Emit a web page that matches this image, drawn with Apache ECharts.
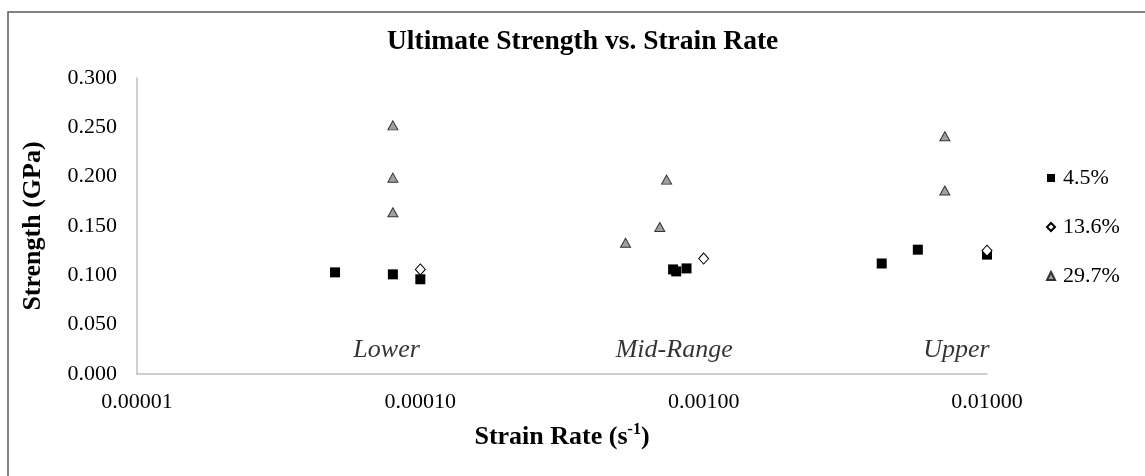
<!DOCTYPE html>
<html>
<head>
<meta charset="utf-8">
<script src="https://cdn.jsdelivr.net/npm/echarts@6/dist/echarts.min.js"></script>
<style>
  html, body { margin: 0; padding: 0; background: #fff; }
  #chart { width: 1145px; height: 476px; }
</style>
</head>
<body>
<div id="chart"></div>
<script>
// Ultimate strength of three fibre contents over a range of strain rates
const seriesNames = ['4.5%', '13.6%', '29.7%'];

const rate4_5 = [5.0e-5, 8.0e-5, 1.0e-4, 7.8e-4, 8.0e-4, 8.7e-4, 4.25e-3, 5.7e-3, 1.0e-2];
const strength4_5 = [0.103, 0.101, 0.096, 0.106, 0.104, 0.107, 0.112, 0.126, 0.121];

const rate13_6 = [1.0e-4, 1.0e-3, 1.0e-2];
const strength13_6 = [0.106, 0.117, 0.125];

const rate29_7 = [8.0e-5, 8.0e-5, 8.0e-5, 5.3e-4, 7.0e-4, 7.4e-4, 7.1e-3, 7.1e-3];
const strength29_7 = [0.252, 0.199, 0.164, 0.133, 0.149, 0.197, 0.241, 0.186];

// strain-rate regime labels and where they sit on the chart
const regimeNames = ['Lower', 'Mid-Range', 'Upper'];
const regimeRates = [7.6e-5, 7.87e-4, 7.8e-3];
const regimeStrength = [0.024, 0.024, 0.024];

const xTicks = [0.00001, 0.0001, 0.001, 0.01];
const yTicks = [0, 0.05, 0.1, 0.15, 0.2, 0.25, 0.3];

const FONT = '"Liberation Serif", "Times New Roman", serif';
const pairs = (xs, ys) => xs.map((x, i) => [x, ys[i]]);

const chart = echarts.init(document.getElementById('chart'), null, { renderer: 'canvas' });

chart.setOption({
  animation: false,
  backgroundColor: '#ffffff',
  textStyle: { fontFamily: FONT, color: '#000' },
  title: {
    text: 'Ultimate Strength vs. Strain Rate',
    left: 382,
    top: 23,
    textStyle: { fontFamily: FONT, fontSize: 27.5, fontWeight: 'bold', color: '#000' }
  },
  graphic: [{
    type: 'rect',
    shape: { x: 8, y: 12, width: 1200, height: 520 },
    style: { fill: 'none', stroke: '#595959', lineWidth: 1.5 },
    silent: true
  }],
  grid: { left: 137, right: 158, top: 78, bottom: 102 },
  legend: {
    orient: 'vertical',
    left: 1046,
    top: 167,
    padding: 0,
    itemWidth: 8,
    itemHeight: 8,
    itemGap: 27,
    textStyle: { fontFamily: FONT, fontSize: 22, color: '#000', padding: [0, 0, 0, 3] },
    data: seriesNames
  },
  xAxis: {
    type: 'log',
    logBase: 10,
    min: xTicks[0],
    max: xTicks[xTicks.length - 1],
    name: 'Strain Rate (s{sup|-1})',
    nameLocation: 'middle',
    nameGap: 48,
    nameTextStyle: {
      fontFamily: FONT, fontSize: 26, fontWeight: 'bold', color: '#000',
      rich: {
        sup: { fontFamily: FONT, fontSize: 16, fontWeight: 'bold', color: '#000', verticalAlign: 'top', lineHeight: 30, padding: [0, 0, 8, 0] }
      }
    },
    axisLine: { show: true, lineStyle: { color: '#bfbfbf', width: 1.5 } },
    axisTick: { show: false },
    splitLine: { show: false },
    axisLabel: {
      margin: 17,
      fontFamily: FONT, fontSize: 22, color: '#000',
      formatter: v => Number(v).toFixed(5)
    }
  },
  yAxis: {
    type: 'value',
    min: yTicks[0],
    max: yTicks[yTicks.length - 1],
    interval: yTicks[1] - yTicks[0],
    name: 'Strength (GPa)',
    nameLocation: 'middle',
    nameGap: 91,
    nameTextStyle: { fontFamily: FONT, fontSize: 26, fontWeight: 'bold', color: '#000' },
    axisLine: { show: true, lineStyle: { color: '#bfbfbf', width: 1.5 } },
    axisTick: { show: false },
    splitLine: { show: false },
    axisLabel: {
      margin: 20,
      fontFamily: FONT, fontSize: 22, color: '#000',
      formatter: v => Number(v).toFixed(3)
    }
  },
  series: [
    {
      name: seriesNames[0],
      type: 'scatter',
      symbol: 'rect',
      symbolSize: 10,
      itemStyle: { color: '#000000', opacity: 1 },
      data: pairs(rate4_5, strength4_5)
    },
    {
      name: seriesNames[1],
      type: 'scatter',
      symbol: 'diamond',
      symbolSize: [10, 11],
      itemStyle: { color: '#ffffff', borderColor: '#000000', borderWidth: 1, opacity: 1 },
      data: pairs(rate13_6, strength13_6)
    },
    {
      name: seriesNames[2],
      type: 'scatter',
      symbol: 'triangle',
      symbolSize: [10, 9],
      itemStyle: { color: '#a0a0a0', borderColor: '#333333', borderWidth: 1, opacity: 1 },
      data: pairs(rate29_7, strength29_7)
    },
    {
      name: 'regimes',
      type: 'scatter',
      symbolSize: 0,
      silent: true,
      label: {
        show: true,
        position: 'inside',
        formatter: p => p.name,
        fontFamily: FONT, fontSize: 26, fontStyle: 'italic', color: '#000'
      },
      data: regimeNames.map((n, i) => ({ name: n, value: [regimeRates[i], regimeStrength[i]] }))
    }
  ]
});
</script>
</body>
</html>
